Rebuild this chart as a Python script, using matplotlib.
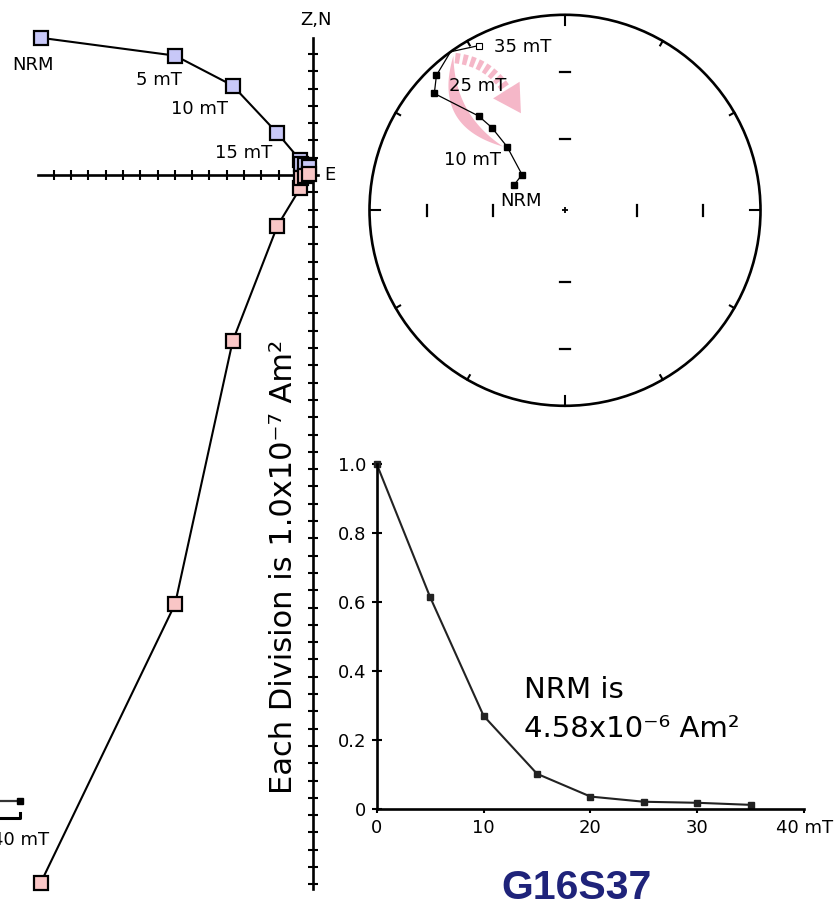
import numpy as np
import matplotlib
matplotlib.use("Agg")
import matplotlib.pyplot as plt
from matplotlib.patches import Circle, Polygon
from matplotlib.lines import Line2D

plt.rcParams["font.family"] = ["DejaVu Sans"]

W, H = 837, 911

# demagnetisation steps
steps = ["NRM", "5 mT", "10 mT", "15 mT", "20 mT", "25 mT", "30 mT", "35 mT"]

# Zijderveld components, in divisions (1 division = 1.0e-7 Am^2)
east = [-15.75, -7.99, -4.66, -2.07, -0.75, -0.70, -0.50, -0.25]
north = [7.93, 6.90, 5.17, 2.41, 0.85, 0.65, 0.55, 0.45]
down = [40.9, 24.8, 9.6, 2.93, 0.75, 0.20, 0.07, -0.05]

# directions for the equal-area net
dec = [297.0, 309.7, 317.7, 318.5, 317.5, 311.8, 316.4, 332.4]
inc = [66.3, 66.7, 53.7, 42.9, 34.9, 11.3, 5.2, -5.5]

# normalised intensity decay
field = [0, 5, 10, 15, 20, 25, 30, 35]
m_norm = [1.0, 0.614, 0.270, 0.102, 0.036, 0.021, 0.018, 0.012]

BLUE = "#c8c8f8"
PINK = "#f9c6c6"
ARROW = "#f5b7c8"
FS = 13


def frac(x0, y0, x1, y1):
    # pixel box (top-left origin) -> figure fraction rect
    return [x0 / W, 1 - y1 / H, (x1 - x0) / W, (y1 - y0) / H]


fig = plt.figure(figsize=(W / 100, H / 100), dpi=100)

# ---------------- Zijderveld plot ----------------
OX, OY, DIV = 313.3, 175.0, 17.3
axz = fig.add_axes([0, 0, 340 / W, 1])
axz.patch.set_visible(False)
axz.set_xlim((0 - OX) / DIV, (340 - OX) / DIV)
axz.set_ylim((OY - H) / DIV, OY / DIV)
for sp in ("top", "right"):
    axz.spines[sp].set_visible(False)
axz.spines["left"].set_position("zero")
axz.spines["bottom"].set_position("zero")
axz.spines["left"].set_bounds(-41.3, 7.92)
axz.spines["bottom"].set_bounds(-15.9, 0.3)
for sp in ("left", "bottom"):
    axz.spines[sp].set_linewidth(1.9)
axz.set_xticks(range(-15, 0))
axz.set_yticks([k for k in range(-41, 8) if k != 0])
axz.tick_params(direction="inout", length=7.5, width=1.5,
                labelbottom=False, labelleft=False)

axz.plot(east, north, "-s", color="k", lw=1.5, ms=9.5, mfc=BLUE, mec="k",
         mew=1.6, clip_on=False, zorder=4)
axz.plot(east, [-d for d in down], "-s", color="k", lw=1.5, ms=9.5, mfc=PINK,
         mec="k", mew=1.6, clip_on=False, zorder=5)

zlab_off = {"NRM": (-8, -27), "5 mT": (-16, -24), "10 mT": (-33, -23),
            "15 mT": (-34, -20)}
for i, s in enumerate(steps):
    if s in zlab_off:
        axz.annotate(s, (east[i], north[i]), xytext=zlab_off[s],
                     textcoords="offset pixels", ha="center", va="center",
                     fontsize=FS)
axz.annotate("Z,N", (0, 7.92), xytext=(3, 18), textcoords="offset pixels",
             ha="center", va="center", fontsize=FS)
axz.annotate("E", (0, 0), xytext=(17, 0), textcoords="offset pixels",
             ha="center", va="center", fontsize=FS)

fig.text(284 / W, 1 - 567 / H, "Each Division is 1.0x10\u207b\u2077 Am\u00b2",
         rotation=90, ha="center", va="center", fontsize=22)

# ---------------- equal-area net ----------------
CX, CY, R = 565.0, 210.3, 195.5
SPAN = 1.1
axs = fig.add_axes(frac(CX - SPAN * R, CY - SPAN * R, CX + SPAN * R, CY + SPAN * R))
axs.set_xlim(-SPAN, SPAN)
axs.set_ylim(-SPAN, SPAN)
axs.axis("off")


def eqarea(d, i):
    d = np.radians(np.asarray(d, float))
    i = np.radians(np.abs(np.asarray(i, float)))
    r = np.sqrt(2) * np.sin((np.pi / 2 - i) / 2)
    return r * np.sin(d), r * np.cos(d)


axs.add_patch(Circle((0, 0), 1, fill=False, lw=1.9, ec="k"))
for az in range(0, 360, 30):
    L = 0.052 if az % 90 == 0 else 0.026
    a = np.radians(az)
    axs.plot([np.sin(a), (1 - L) * np.sin(a)], [np.cos(a), (1 - L) * np.cos(a)],
             color="k", lw=1.5)
for it in (30, 60):
    r = eqarea(0, it)[1]
    for sgn in (-1, 1):
        axs.plot([sgn * r, sgn * r], [-0.027, 0.027], color="k", lw=1.6)
        axs.plot([-0.028, 0.028], [sgn * r, sgn * r], color="k", lw=1.6)
axs.plot([0], [0], "+", color="k", ms=5, mew=1.3)

xs, ys = eqarea(dec, inc)
inc_a = np.array(inc)
low = inc_a >= 0

# perimeter crossing between last lower and first upper point
k = int(np.argmax(~low))
v = []
for d_, i_ in ((dec[k - 1], inc[k - 1]), (dec[k], inc[k])):
    dr, ir = np.radians(d_), np.radians(i_)
    v.append(np.array([np.cos(ir) * np.cos(dr), np.cos(ir) * np.sin(dr), np.sin(ir)]))
t = v[0][2] / (v[0][2] - v[1][2])
vc = (1 - t) * v[0] + t * v[1]
dcross = np.arctan2(vc[1], vc[0])
cross = np.array([np.sin(dcross), np.cos(dcross)])

axs.plot(list(xs[:k]) + [cross[0]], list(ys[:k]) + [cross[1]], color="k", lw=0.9)
axs.plot([cross[0]] + list(xs[k:]), [cross[1]] + list(ys[k:]), color="k", lw=0.9)


def bezier(p0, c, p1, n=60):
    tt = np.linspace(0, 1, n)[:, None]
    return (1 - tt) ** 2 * p0 + 2 * (1 - tt) * tt * c + tt ** 2 * p1


# solid crescent along the lower-hemisphere path
p10 = np.array([xs[2], ys[2]])
bs = p10 + np.array([-0.02, 0.0])
be = cross * 0.975
dvec = (be - bs) / np.linalg.norm(be - bs)
perp = np.array([-dvec[1], dvec[0]])
mid = (bs + be) / 2
outer = bezier(bs, mid + 0.27 * perp, be)
inner = bezier(bs, mid + 0.14 * perp, be)
axs.add_patch(Polygon(np.vstack([outer, inner[::-1]]), closed=True,
                      fc=ARROW, ec="none", zorder=1))

# dashed curved arrow back towards the centre
ds = cross * 0.96
hb = np.array([-0.30, 0.615])
dv = (hb - ds) / np.linalg.norm(hb - ds)
ctrl = (ds + hb) / 2 + 0.075 * np.array([-dv[1], dv[0]])
shaft = bezier(ds, ctrl, hb)
axs.plot(shaft[:, 0], shaft[:, 1], color=ARROW, lw=7.5,
         linestyle=(0, (0.45, 0.3)), solid_capstyle="butt", zorder=1)
tang = (hb - ctrl) / np.linalg.norm(hb - ctrl)
tip = hb + 0.14 * tang
nrm = np.array([-tang[1], tang[0]])
axs.add_patch(Polygon([hb + 0.08 * nrm, tip, hb - 0.08 * nrm], closed=True,
                      fc=ARROW, ec="none", zorder=1))

axs.plot(xs[low], ys[low], "s", color="k", ms=5, zorder=3)
axs.plot(xs[~low], ys[~low], "s", mfc="white", mec="k", mew=0.8, ms=5, zorder=3)

slab_off = {"NRM": (7, -16), "10 mT": (-35, -13), "25 mT": (43, 7),
            "35 mT": (44, -1)}
for i, s in enumerate(steps):
    if s in slab_off:
        axs.annotate(s, (xs[i], ys[i]), xytext=slab_off[s],
                     textcoords="offset pixels", ha="center", va="center",
                     fontsize=FS, zorder=4)

# ---------------- intensity decay ----------------
axd = fig.add_axes(frac(376.7, 464, 804.3, 809))
axd.patch.set_visible(False)
axd.set_xlim(0, 40)
axd.set_ylim(0, 1)
for sp in ("top", "right"):
    axd.spines[sp].set_visible(False)
for sp in ("left", "bottom"):
    axd.spines[sp].set_linewidth(1.9)
axd.plot(field, m_norm, "-s", color="#222222", lw=1.5, ms=4, clip_on=False)
axd.set_xticks([0, 10, 20, 30, 40])
axd.set_xticklabels(["0", "10", "20", "30", "40 mT"])
axd.set_yticks([0, 0.2, 0.4, 0.6, 0.8, 1.0])
axd.set_yticklabels(["0", "0.2", "0.4", "0.6", "0.8", "1.0"])
axd.tick_params(axis="y", direction="inout", length=7, width=1.5, pad=4,
                labelsize=FS)
axd.tick_params(axis="x", direction="out", length=3, width=1.5, pad=4,
                labelsize=FS)

fig.text(524 / W, 1 - 698 / H, "NRM is", fontsize=21, va="baseline")
fig.text(524 / W, 1 - 736.7 / H, "4.58x10\u207b\u2076 Am\u00b2", fontsize=21,
         va="baseline")

fig.text(576.7 / W, 1 - 888 / H, "G16S37", fontsize=29.5, fontweight="bold",
         family=["Liberation Sans", "DejaVu Sans"], color="#1f237a",
         ha="center", va="center")

# cropped fragment of the neighbouring panel at the left edge
ft = fig.transFigure
fig.add_artist(Line2D([0, 17 / W], [1 - 801 / H, 1 - 801 / H], color="#333333",
                      lw=1.6, transform=ft))
fig.add_artist(Line2D([20 / W], [1 - 801 / H], marker="s", ms=5, color="k",
                      transform=ft))
fig.add_artist(Line2D([0, 19.5 / W, 19.5 / W],
                      [1 - 818 / H, 1 - 818 / H, 1 - 812.5 / H], color="k",
                      lw=2.2, transform=ft))
fig.text(49 / W, 1 - 840 / H, "40 mT", fontsize=FS, ha="right", va="center")

fig.savefig("out.png", dpi=100)
